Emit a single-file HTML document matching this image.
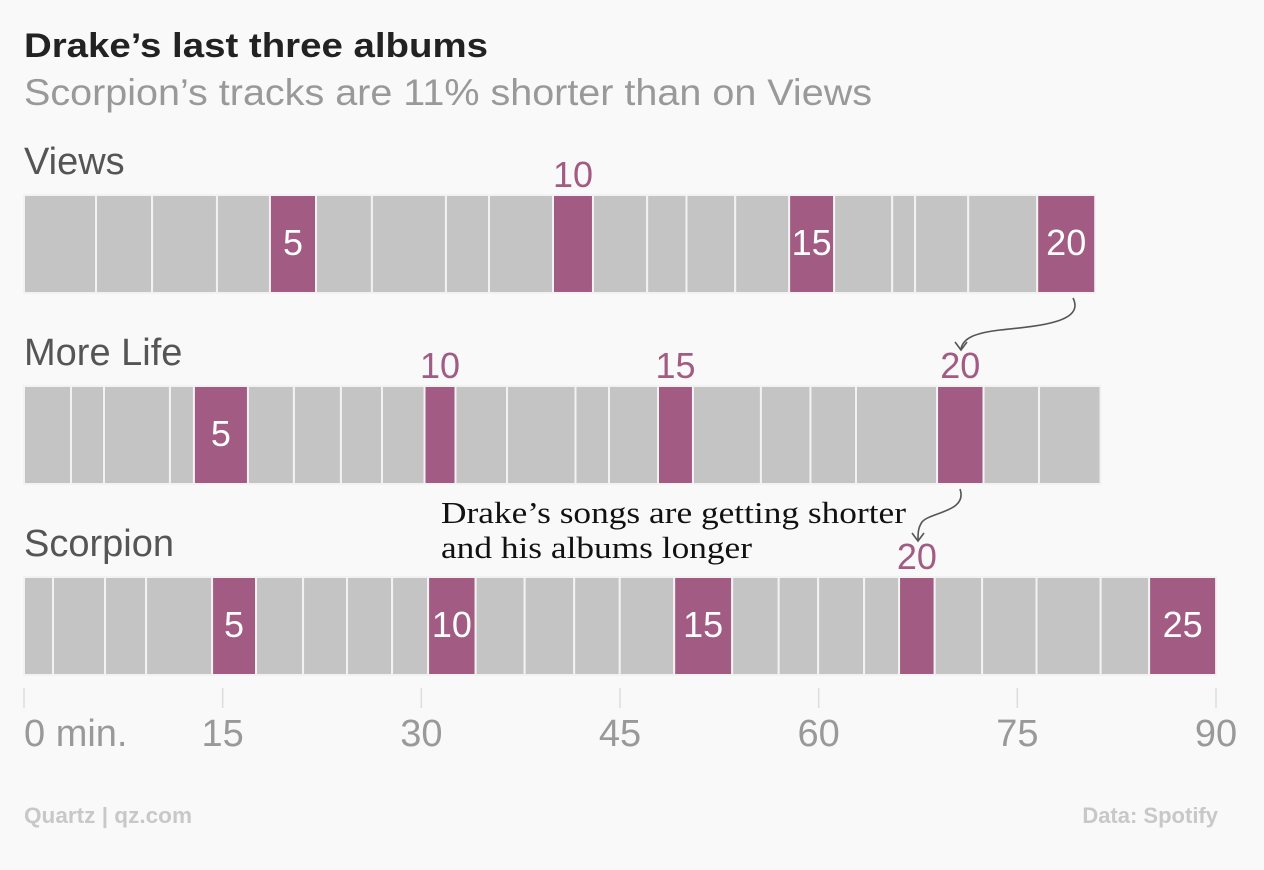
<!DOCTYPE html>
<html><head><meta charset="utf-8"><style>
body{margin:0;background:#f9f9f9;}
svg{display:block;font-family:"Liberation Sans",sans-serif;}
</style></head><body>
<svg id="chart" width="1264" height="870" viewBox="0 0 1264 870">
<rect width="1264" height="870" fill="#f9f9f9"/>
<text x="24" y="57" font-size="34" font-weight="bold" fill="#222" textLength="464" lengthAdjust="spacingAndGlyphs">Drake’s last three albums</text>
<text x="24" y="105" font-size="37" fill="#999" textLength="848" lengthAdjust="spacingAndGlyphs">Scorpion’s tracks are 11% shorter than on Views</text>
<g id="rows"></g>
<g id="axis"></g>
<path d="M1073,298 C1085,322 1040,326 1000,330 C975,333 963,338 961,349" fill="none" stroke="#555" stroke-width="1.6"/>
<path d="M955,342 L961,350 L967,342" fill="none" stroke="#555" stroke-width="1.6"/>
<path d="M960,489 C968,512 930,512 922,522 C918,528 918,533 918,540" fill="none" stroke="#555" stroke-width="1.6"/>
<path d="M912,533 L918,541 L924,533" fill="none" stroke="#555" stroke-width="1.6"/>
<text x="441" y="523" font-size="31" font-family="Liberation Serif, serif" fill="#111" textLength="465" lengthAdjust="spacingAndGlyphs">Drake’s songs are getting shorter</text>
<text x="441" y="558" font-size="31" font-family="Liberation Serif, serif" fill="#111" textLength="311" lengthAdjust="spacingAndGlyphs">and his albums longer</text>
<text x="24" y="823" font-size="22" font-weight="bold" fill="#c8c8c8" textLength="168" lengthAdjust="spacingAndGlyphs">Quartz | qz.com</text>
<text x="1218" y="823" font-size="22" font-weight="bold" fill="#c8c8c8" text-anchor="end">Data: Spotify</text>
</svg>
<script>
const albums = ["Views","More Life","Scorpion"];
const viewsTracks = [5.44,4.23,4.9,4.0,3.48,4.22,5.59,3.25,4.83,3.02,4.09,2.97,3.68,4.07,3.4,4.38,1.73,4.01,5.21,4.38];
const moreLifeTracks = [3.55,2.49,4.98,1.81,4.08,3.47,3.55,3.10,3.21,2.34,3.89,5.17,2.53,3.70,2.64,5.13,3.74,3.44,6.12,3.51,4.19,4.64];
const scorpionTracks = [2.19,3.93,3.10,4.98,3.32,3.55,3.32,3.40,2.72,3.59,3.70,3.74,3.44,4.11,4.38,3.51,2.98,3.47,2.64,2.69,3.58,4.11,4.84,3.66,5.06];
const tickValues = [0,15,30,45,60,75,90];
const tickLabels = ["0 min.","15","30","45","60","75","90"];

const NS="http://www.w3.org/2000/svg";
const x0=24,x1=1216,maxMin=90;
function xScale(v){return x0+(v/maxMin)*(x1-x0);}
const rowTops=[195,386,577], rowH=98;
const allTracks=[viewsTracks,moreLifeTracks,scorpionTracks];
const rowsG=document.getElementById('rows');
function mk(tag,attrs){const e=document.createElementNS(NS,tag);for(const k in attrs)e.setAttribute(k,attrs[k]);return e;}
allTracks.forEach((tracks,r)=>{
  const top=rowTops[r];
  const lab=mk('text',{x:24,y:top-21,'font-size':38,fill:'#555'});
  
  
  lab.textContent=albums[r];rowsG.appendChild(lab);
  let cum=0;
  tracks.forEach((d,i)=>{
    const n=i+1, hl=n%5===0;
    const xa=xScale(cum), xb=xScale(cum+d);
    cum+=d;
    const rect=mk('rect',{x:xa,y:top,width:Math.max(0,xb-xa),height:rowH,fill:hl?'#a25b82':'#c4c4c4',stroke:'#f2f2f2','stroke-width':2});
    
    
    rowsG.appendChild(rect);
    if(hl){
      const s=String(n), w=xb-xa;
      const need = s.length===1?22:(s[0]==='1'?40:48);
      const inside = w>=need;
      const t=mk('text',{x:(xa+xb)/2,y:inside?top+60:top-8,'font-size':36,'text-anchor':'middle',fill:inside?'#fff':'#a25b82'});
      
      
      t.textContent=s;rowsG.appendChild(t);
    }
  });
});
const ax=document.getElementById('axis');
tickValues.forEach((v,i)=>{
  const x=xScale(v);
  const l=mk('line',{x1:x,x2:x,y1:688,y2:708,stroke:'#ddd','stroke-width':1.5});
  
  
  ax.appendChild(l);
  const t=mk('text',{x:x,y:746,'font-size':38,fill:'#999','text-anchor':i===0?'start':'middle'});
  
  
  t.textContent=tickLabels[i];ax.appendChild(t);
});
</script>
</body></html>
